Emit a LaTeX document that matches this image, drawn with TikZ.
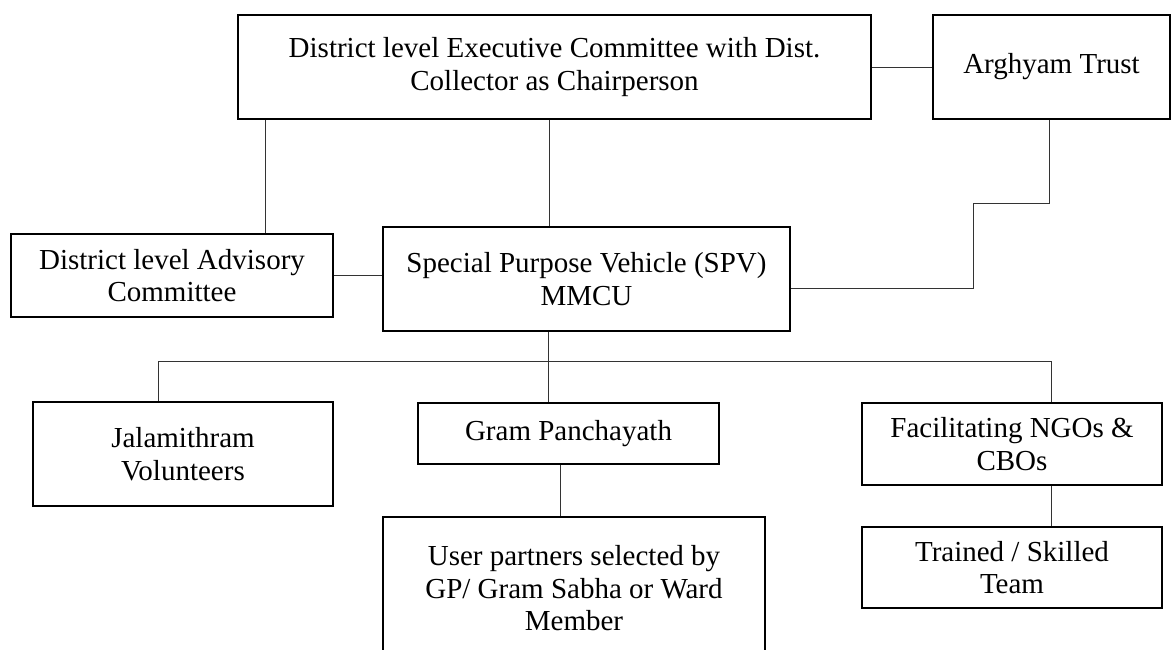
\documentclass[tikz,border=0pt]{standalone}
\usepackage{fontspec}
\setmainfont{Liberation Serif}
\usetikzlibrary{calc}

\tikzset{
  orgbox/.style={draw, line width=1.6pt, inner sep=0pt, align=center,
    font=\fontsize{29}{32.5}\selectfont},
  link/.style={draw=black!80, line width=0.9pt}
}

\begin{document}
\begin{tikzpicture}[x=1pt,y=-1pt]
    \useasboundingbox (0,0) rectangle (1172,649);
    \node[orgbox, minimum width=633pt, minimum height=104pt] (exec) at (554.5,67) {District level Executive Committee with Dist.\\Collector as Chairperson};
    \node[orgbox, minimum width=237pt, minimum height=104pt] (trust) at (1051.5,67) {Arghyam Trust};
    \node[orgbox, minimum width=322pt, minimum height=83pt] (advisory) at (172,275.5) {District level Advisory\\Committee};
    \node[orgbox, minimum width=407pt, minimum height=104pt] (spv) at (586.5,279) {Special Purpose Vehicle (SPV)\\MMCU};
    \node[orgbox, minimum width=300pt, minimum height=104pt] (jala) at (183,454) {Jalamithram\\Volunteers};
    \node[orgbox, minimum width=301pt, minimum height=61pt] (gp) at (568.5,433.5) {Gram Panchayath};
    \node[orgbox, minimum width=300pt, minimum height=82pt] (ngo) at (1012,444) {Facilitating NGOs \&\\CBOs};
    \node[orgbox, minimum width=382pt, minimum height=143pt] (users) at (574,588.5) {User partners selected by\\GP/ Gram Sabha or Ward\\Member};
    \node[orgbox, minimum width=300pt, minimum height=81pt] (team) at (1012,567.5) {Trained / Skilled\\Team};

    \coordinate (stair) at (973,203);
    \coordinate (hub) at (548,361);
    \coordinate (busl) at (158,361);
    \coordinate (busr) at (1051,361);

    \draw[link] (exec.east) -- (trust.west);
    \draw[link] ([xshift=28pt]exec.south west) -- ([xshift=28pt]exec.south west |- advisory.north);
    \draw[link] ([xshift=-5.5pt]exec.south) -- ([xshift=-5.5pt]exec.south |- spv.north);
    \draw[link] ([xshift=-2.5pt]trust.south) |- (stair) |- ([yshift=-9pt]spv.east);
    \draw[link] (advisory.east) -- (advisory.east -| spv.west);
    \draw[link] (hub |- spv.south) -- (hub);
    \draw[link] (busl) -- (busr);
    \draw[link] (busl) -- (busl |- jala.north);
    \draw[link] (hub) -- (hub |- gp.north);
    \draw[link] (busr) -- (busr |- ngo.north);
    \draw[link] ([xshift=-8.5pt]gp.south) -- ([xshift=-8.5pt]gp.south |- users.north);
    \draw[link] (busr |- ngo.south) -- (busr |- team.north);
\end{tikzpicture}
\end{document}
